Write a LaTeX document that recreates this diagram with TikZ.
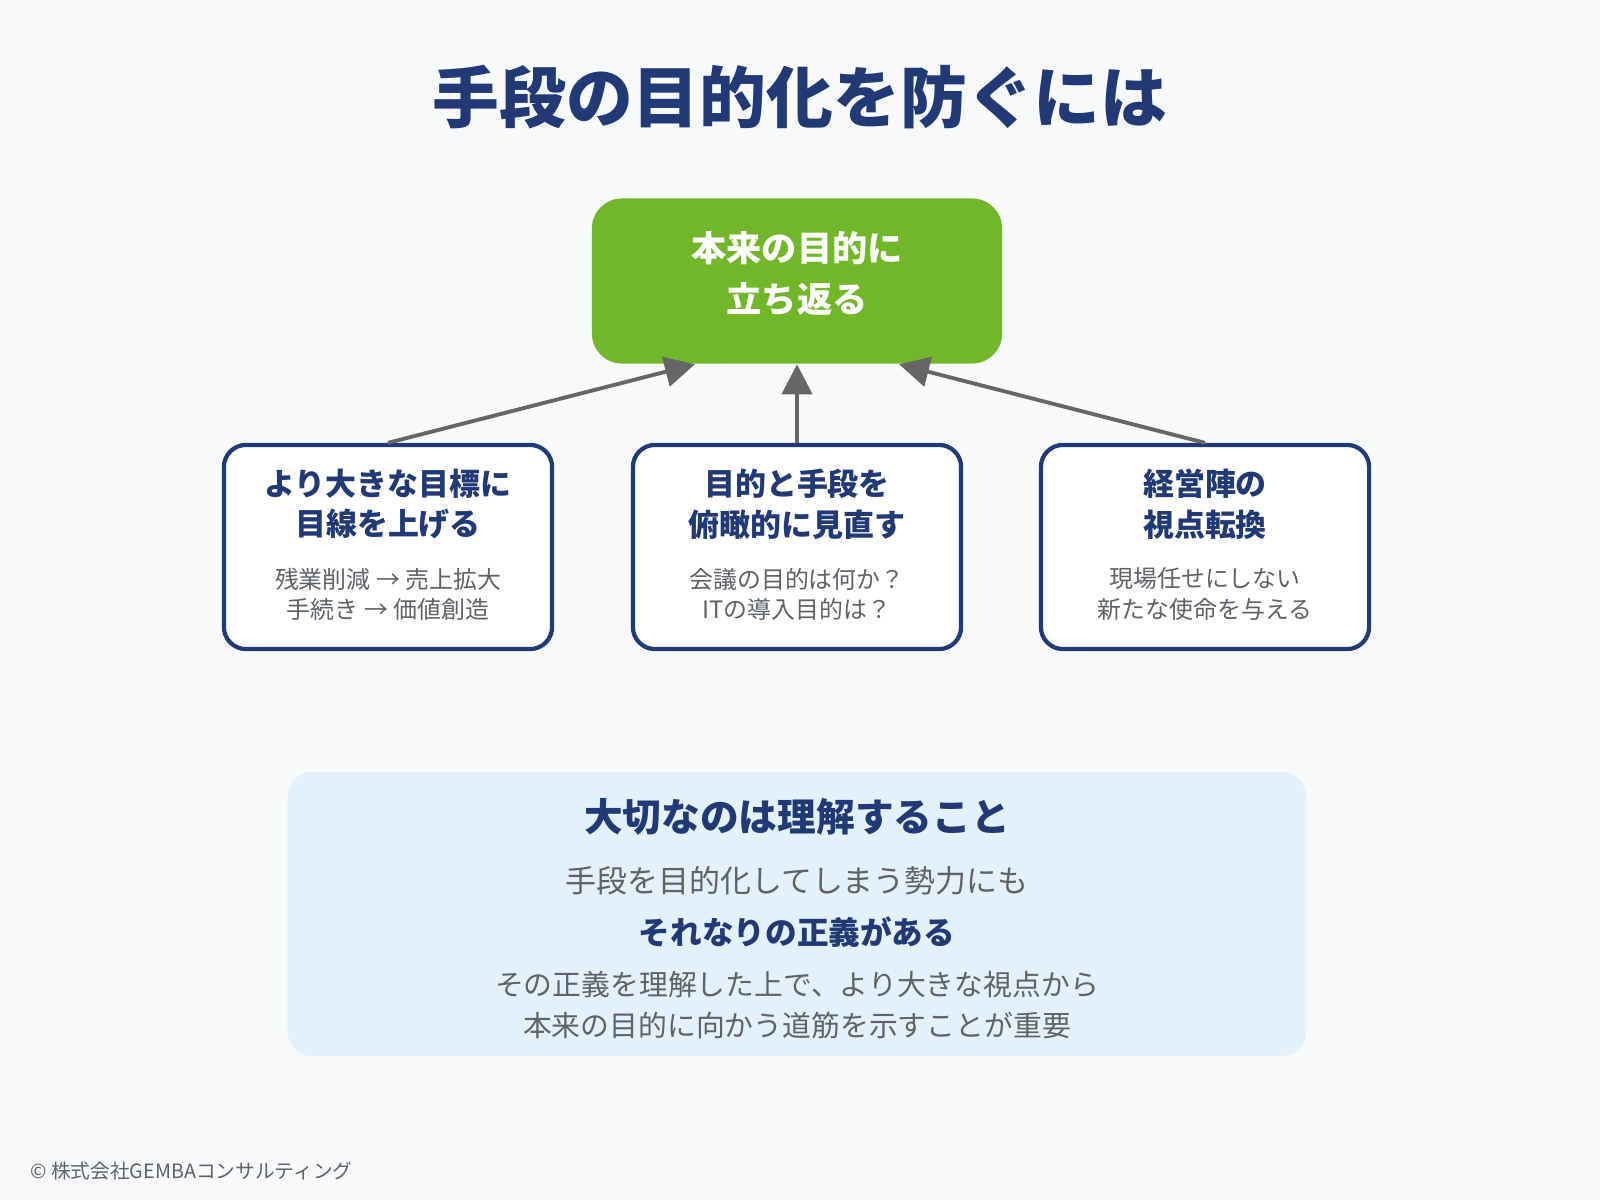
\documentclass[tikz,border=0pt]{standalone}
\usepackage{fontspec}
\setmainfont{Noto Sans CJK JP}
\usetikzlibrary{arrows.meta}
\definecolor{navy}{HTML}{213A75}
\definecolor{leaf}{HTML}{72B72A}
\definecolor{txtgray}{HTML}{5F6368}
\definecolor{bgpage}{HTML}{F7F9FB}
\definecolor{notebg}{HTML}{E2F1FC}
\definecolor{linkgray}{HTML}{666666}

\tikzset{
  goalbox/.style={fill=leaf, rounded corners=0.3cm, minimum width=4.1cm, minimum height=1.65cm},
  goaltext/.style={text=white, font=\bfseries\fontsize{10pt}{14.5pt}\selectfont, align=center},
  waybox/.style={draw=navy, line width=1.2pt, fill=white, rounded corners=0.22cm,
    minimum width=3.28cm, minimum height=2.04cm},
  waytitle/.style={text=navy, font=\bfseries\fontsize{8.8pt}{11.6pt}\selectfont, align=center},
  waynote/.style={text=txtgray, font=\fontsize{6.8pt}{8.6pt}\selectfont, align=center},
  link/.style={draw=linkgray, line width=1.1pt, -{Triangle[length=0.3cm,width=0.3cm]}},
}

\begin{document}
\begin{tikzpicture}[x=0.01cm, y=-0.01cm]
\useasboundingbox[fill=bgpage] (0,0) rectangle (1600,1200);
\node [text=navy, font=\bfseries\fontsize{19pt}{23pt}\selectfont] (title) at (800,97) {手段の目的化を防ぐには};

% goal
\node [goalbox] (goal) at (797,281) {};
\node [goaltext] (goalt) at (797,274) {本来の目的に\\立ち返る};

% three ways
\node [waybox] (wayA) at (388,547) {};
\node [waytitle] (wayAt) at (388,504) {より大きな目標に\\目線を上げる};
\node [waynote] (wayAn) at (388,594) {残業削減 → 売上拡大\\手続き → 価値創造};
\node [waybox] (wayB) at (797,547) {};
\node [waytitle] (wayBt) at (797,504) {目的と手段を\\俯瞰的に見直す};
\node [waynote] (wayBn) at (797,594) {会議の目的は何か？\\ITの導入目的は？};
\node [waybox] (wayC) at (1205,547) {};
\node [waytitle] (wayCt) at (1205,504) {経営陣の\\視点転換};
\node [waynote] (wayCn) at (1205,594) {現場任せにしない\\新たな使命を与える};

\draw [link] (wayA.north) -- ([xshift=-1.02cm]goal.south);
\draw [link] (wayB.north) -- (goal.south);
\draw [link] (wayC.north) -- ([xshift=1.02cm]goal.south);

% note
\node [fill=notebg, rounded corners=0.25cm, minimum width=10.18cm, minimum height=2.84cm] (note) at (797,914) {};
\node [text=navy, font=\bfseries\fontsize{11pt}{13pt}\selectfont] (noteA) at (797,817) {大切なのは理解すること};
\node [text=txtgray, font=\fontsize{8.8pt}{11pt}\selectfont] (noteB) at (797,881) {手段を目的化してしまう勢力にも};
\node [text=navy, font=\bfseries\fontsize{9pt}{11pt}\selectfont] (noteC) at (797,932) {それなりの正義がある};
\node [text=txtgray, font=\fontsize{8.2pt}{11.6pt}\selectfont, align=center] (noteD) at (797,1005) {その正義を理解した上で、より大きな視点から\\本来の目的に向かう道筋を示すことが重要};

\node [anchor=west, text=txtgray, font=\fontsize{5.6pt}{7pt}\selectfont] (copy) at (18,1171) {© 株式会社GEMBAコンサルティング};
\end{tikzpicture}
\end{document}
